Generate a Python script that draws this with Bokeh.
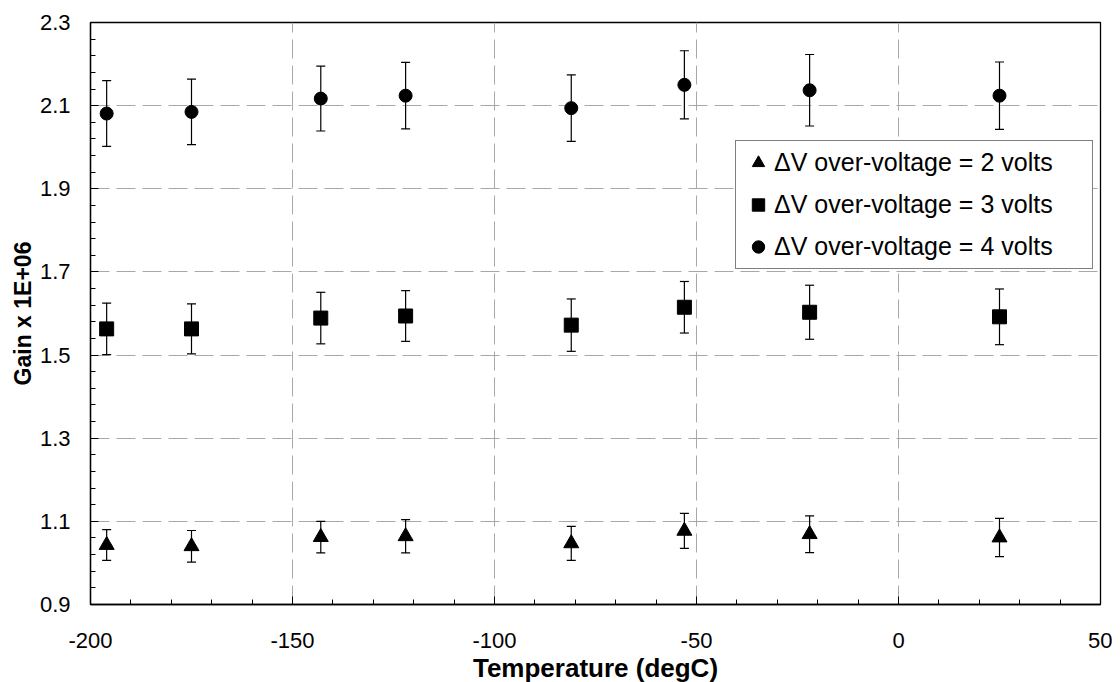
import numpy as np
from bokeh.plotting import figure
from bokeh.models import (ColumnDataSource, Whisker, TeeHead, Legend, LegendItem,
                          FixedTicker, Range1d)
from bokeh.embed import file_html
from bokeh.resources import INLINE

# ---------------- data ----------------
temps = [-196, -175, -143, -122, -81, -53, -22, 25]

gain_2v = [1.043, 1.040, 1.062, 1.064, 1.047, 1.077, 1.069, 1.061]
err_2v = [0.037, 0.038, 0.038, 0.040, 0.041, 0.042, 0.044, 0.046]

gain_3v = [1.563, 1.563, 1.589, 1.594, 1.572, 1.615, 1.603, 1.592]
err_3v = [0.062, 0.060, 0.062, 0.061, 0.063, 0.062, 0.065, 0.067]

gain_4v = [2.081, 2.085, 2.117, 2.124, 2.094, 2.150, 2.137, 2.124]
err_4v = [0.079, 0.079, 0.078, 0.080, 0.080, 0.082, 0.086, 0.081]

labels = ["\u0394V over-voltage = 2 volts",
          "\u0394V over-voltage = 3 volts",
          "\u0394V over-voltage = 4 volts"]

x_ticks = [-200, -150, -100, -50, 0, 50]
y_ticks = [0.9, 1.1, 1.3, 1.5, 1.7, 1.9, 2.1, 2.3]
x_label = "Temperature (degC)"
y_label = "Gain x 1E+06"

FONT = "Liberation Sans"

p = figure(frame_width=1010, frame_height=582,
           x_range=Range1d(-200, 50), y_range=Range1d(0.9, 2.3),
           output_backend="svg", toolbar_location=None,
           min_border_left=90, min_border_right=12,
           min_border_top=22, min_border_bottom=0)
p.background_fill_color = "white"
p.border_fill_color = "white"
p.outline_line_color = "black"
p.outline_line_width = 1.3

# ticks
x_minor = list(np.arange(-200, 51, 10))
y_minor = list(np.round(np.arange(0.9, 2.3001, 0.04), 2))
p.xaxis.ticker = FixedTicker(ticks=x_ticks, minor_ticks=x_minor)
p.yaxis.ticker = FixedTicker(ticks=y_ticks, minor_ticks=y_minor)
p.yaxis.major_label_overrides = {v: f"{v:.1f}" for v in y_ticks}
p.xaxis.major_label_overrides = {v: f"{v}" for v in x_ticks}

for ax in (p.xaxis[0], p.yaxis[0]):
    ax.axis_line_color = "black"
    ax.axis_line_width = 1.3
    ax.major_tick_in = 8
    ax.major_tick_out = 0
    ax.minor_tick_in = 5
    ax.minor_tick_out = 0
    ax.major_tick_line_color = "black"
    ax.minor_tick_line_color = "black"
    ax.major_label_text_font = FONT
    ax.major_label_text_font_size = "22px"
    ax.major_label_text_color = "black"
    ax.axis_label_text_font = FONT
    ax.axis_label_text_font_style = "bold"
    ax.axis_label_text_color = "black"

p.xaxis.axis_label = x_label
p.yaxis.axis_label = y_label
p.xaxis.axis_label_text_font_size = "26px"
p.yaxis.axis_label_text_font_size = "23px"
p.xaxis.major_label_standoff = 28
p.yaxis.major_label_standoff = 20
p.xaxis.axis_label_standoff = 2
p.yaxis.axis_label_standoff = 1

# grid
for g in (p.xgrid[0], p.ygrid[0]):
    g.grid_line_color = "#a8a8a8"
    g.grid_line_dash = "19 7"
    g.grid_line_width = 1

# series
series = [
    (gain_2v, err_2v, "triangle", 15),
    (gain_3v, err_3v, "square", 14),
    (gain_4v, err_4v, "circle", 13),
]

items = []
for (vals, errs, marker, size), lab in zip(series, labels):
    src = ColumnDataSource(dict(
        x=temps, y=vals,
        upper=[v + e for v, e in zip(vals, errs)],
        lower=[v - e for v, e in zip(vals, errs)],
    ))
    w = Whisker(source=src, base="x", upper="upper", lower="lower",
                dimension="height", line_color="black", line_width=1.2,
                upper_head=TeeHead(size=9, line_color="black", line_width=1.2),
                lower_head=TeeHead(size=9, line_color="black", line_width=1.2),
                level="glyph")
    p.add_layout(w)
    r = p.scatter("x", "y", source=src, marker=marker, size=size,
                  fill_color="black", line_color="black")
    items.append(LegendItem(label=lab, renderers=[r]))

legend = Legend(items=items, location=(645, 335),
                label_text_font=FONT, label_text_font_size="25px",
                label_text_color="black",
                glyph_width=32, glyph_height=31, label_standoff=0,
                label_width=312, spacing=11, padding=6, margin=0,
                border_line_color="black", border_line_width=1,
                background_fill_color="white", background_fill_alpha=1.0)
p.add_layout(legend, "center")

open("out.html", "w").write(file_html(p, INLINE))
